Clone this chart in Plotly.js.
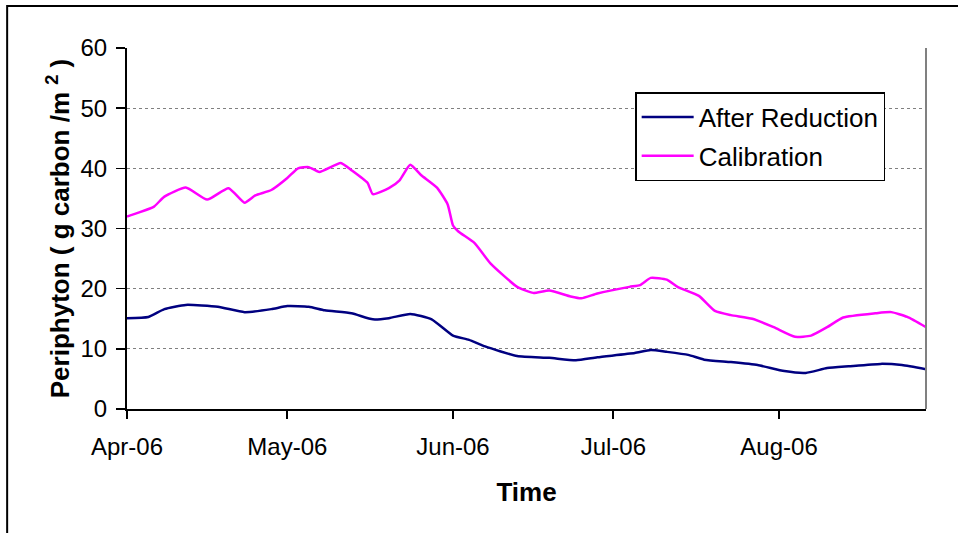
<!DOCTYPE html>
<html>
<head>
<meta charset="utf-8">
<script src="https://cdn.plot.ly/plotly-3.0.1.min.js"></script>
<style>html,body{margin:0;padding:0;background:#fff;}#chart{width:958px;height:533px;}</style>
</head>
<body>
<div id="chart"></div>
<script>
// Calibration series
const calDates = ["2006-04-01","2006-04-03","2006-04-06","2006-04-08","2006-04-12","2006-04-16","2006-04-20","2006-04-23","2006-04-25","2006-04-28",
  "2006-05-01","2006-05-03","2006-05-05","2006-05-07","2006-05-11","2006-05-13","2006-05-16","2006-05-17","2006-05-20","2006-05-22","2006-05-24","2006-05-26","2006-05-29","2006-05-31",
  "2006-06-01","2006-06-02","2006-06-05","2006-06-08","2006-06-13","2006-06-16","2006-06-19","2006-06-23","2006-06-25","2006-06-28",
  "2006-07-04","2006-07-06","2006-07-08","2006-07-11","2006-07-13","2006-07-17","2006-07-20","2006-07-23","2006-07-27","2006-07-31",
  "2006-08-04","2006-08-07","2006-08-10","2006-08-13","2006-08-19","2006-08-22","2006-08-25","2006-08-28 12:00"];
const calValues = [32.0,32.6,33.6,35.3,36.8,34.8,36.7,34.3,35.5,36.4,
  38.4,40.0,40.2,39.4,40.9,39.7,37.6,35.7,36.7,38.0,40.6,38.9,36.8,34.0,
  30.5,29.5,27.6,24.2,20.3,19.3,19.7,18.7,18.4,19.2,
  20.3,20.6,21.8,21.5,20.3,18.8,16.3,15.6,15.0,13.6,
  12.0,12.2,13.6,15.2,15.9,16.1,15.3,13.6];

// After Reduction series
const redDates = ["2006-04-01","2006-04-05","2006-04-08","2006-04-12","2006-04-18","2006-04-23","2006-04-28",
  "2006-05-01","2006-05-05","2006-05-08","2006-05-13","2006-05-17","2006-05-20","2006-05-24","2006-05-28",
  "2006-06-01","2006-06-04","2006-06-07","2006-06-13","2006-06-19","2006-06-24","2006-06-28",
  "2006-07-05","2006-07-08","2006-07-11","2006-07-15","2006-07-18","2006-07-23","2006-07-28",
  "2006-08-02","2006-08-06","2006-08-10","2006-08-14","2006-08-20","2006-08-24","2006-08-28 12:00"];
const redValues = [15.1,15.3,16.6,17.3,17.0,16.1,16.6,
  17.1,17.0,16.4,15.9,14.9,15.1,15.8,14.9,
  12.2,11.5,10.4,8.8,8.5,8.1,8.6,
  9.3,9.8,9.5,9.0,8.2,7.8,7.3,
  6.3,6.0,6.8,7.1,7.5,7.3,6.6];

const tickDates = ["2006-04-01","2006-05-01","2006-06-01","2006-07-01","2006-08-01"];
const tickLabels = ["Apr-06","May-06","Jun-06","Jul-06","Aug-06"];
const yTicks = [0,10,20,30,40,50,60];

const FONT = "Liberation Sans, Arial, sans-serif";

const traces = [
  {x: redDates, y: redValues, name: "After Reduction", type: "scatter", mode: "lines",
   line: {color: "#000080", width: 2.5, shape: "spline", smoothing: 0.5}, legendgroup: "a"},
  {x: calDates, y: calValues, name: "Calibration", type: "scatter", mode: "lines",
   line: {color: "#FF00FF", width: 2.5, shape: "spline", smoothing: 0.5}, legendgroup: "b"}
];

const layout = {
  width: 958, height: 533,
  margin: {l: 127, r: 32, t: 48, b: 124},
  paper_bgcolor: "#ffffff", plot_bgcolor: "#ffffff",
  font: {family: FONT, size: 24, color: "#000"},
  showlegend: true,
  legend: {x: 0.636, y: 0.878, xanchor: "left", yanchor: "top",
    bgcolor: "#ffffff", bordercolor: "#000", borderwidth: 1.5,
    itemwidth: 52,
    font: {family: FONT, size: 26, color: "#000"}, tracegroupgap: 2, traceorder: "grouped"},
  xaxis: {
    type: "date", range: ["2006-04-01", "2006-08-28 12:00"],
    tickvals: tickDates, ticktext: tickLabels,
    ticks: "outside", ticklen: 8, tickwidth: 2, tickcolor: "#000",
    ticklabelstandoff: 7,
    showline: true, linecolor: "#000", linewidth: 2,
    showgrid: false, zeroline: false,
    tickfont: {family: FONT, size: 24},
    title: {text: "<b>Time</b>", font: {family: FONT, size: 26}, standoff: 24}
  },
  yaxis: {
    range: [0, 60], tickvals: yTicks,
    ticks: "outside", ticklen: 9, tickwidth: 1.5, tickcolor: "#000",
    ticklabelstandoff: 4,
    showline: true, linecolor: "#000", linewidth: 2,
    showgrid: true, gridcolor: "#808080", gridwidth: 1, griddash: "dot",
    zeroline: false,
    tickfont: {family: FONT, size: 24},
    title: {text: "<b>Periphyton ( g carbon /m <sup>2</sup> )</b>", font: {family: FONT, size: 26}, standoff: 3}
  },
  shapes: [
    {type: "line", xref: "paper", yref: "paper", x0: 1, x1: 1, y0: 0, y1: 1,
     line: {color: "#808080", width: 2}},
    {type: "rect", xref: "paper", yref: "paper", x0: -0.150, x1: 1.2, y0: -0.5, y1: 1.1163,
     line: {color: "#000", width: 2}, fillcolor: "rgba(0,0,0,0)", layer: "above"}
  ]
};

Plotly.newPlot("chart", traces, layout, {displayModeBar: false, staticPlot: true});
</script>
</body>
</html>
